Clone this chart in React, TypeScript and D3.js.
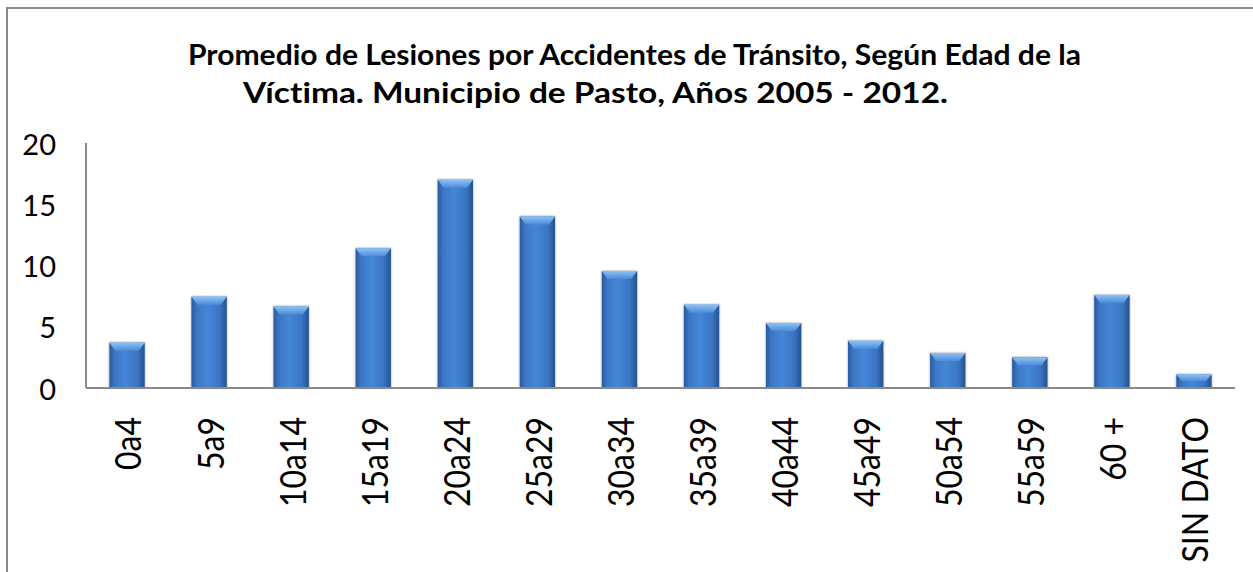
import React from "react";
import * as d3 from "d3";

const categories = ["0a4", "5a9", "10a14", "15a19", "20a24", "25a29", "30a34", "35a39", "40a44", "45a49", "50a54", "55a59", "60 +", "SIN DATO"];
const values = [3.7, 7.45, 6.65, 11.4, 17.0, 14.0, 9.55, 6.8, 5.3, 3.85, 2.85, 2.5, 7.6, 1.1];
const yTicks = [0, 5, 10, 15, 20];
const titleLines = [
  "Promedio de Lesiones por Accidentes de Tránsito, Según Edad de la",
  "Víctima. Municipio de Pasto, Años 2005 - 2012.",
];

const W = 1253;
const H = 572;
const plot = { left: 86, right: 1235, top: 143, bottom: 388 };
const FONT = "Lato, 'Open Sans', sans-serif";
const titleLayout = [
  { x: 188, y: 65, len: 893 },
  { x: 243, y: 103, len: 705 },
];

export default function App() {
  const x = d3
    .scaleBand<string>()
    .domain(categories)
    .range([plot.left, plot.right])
    .paddingInner(0.57)
    .paddingOuter(0.285);
  const y = d3.scaleLinear().domain([0, 20]).range([plot.bottom, plot.top]);
  const bw = x.bandwidth();

  return (
    <svg
      width={W}
      height={H}
      style={{ position: "absolute", left: 0, top: 0, background: "#fff", fontVariantLigatures: "none" }}
    >
      <defs>
        <linearGradient id="barBody" x1="0" x2="1" y1="0" y2="0">
          <stop offset="0%" stopColor="#2a5a9c" />
          <stop offset="15%" stopColor="#3c76c4" />
          <stop offset="45%" stopColor="#4587d8" />
          <stop offset="80%" stopColor="#3b74c2" />
          <stop offset="100%" stopColor="#26528f" />
        </linearGradient>
        <linearGradient id="barCap" x1="0" x2="0" y1="0" y2="1">
          <stop offset="0%" stopColor="#8cc2f5" />
          <stop offset="100%" stopColor="#4b8bd9" />
        </linearGradient>
        <filter id="shadow" x="-20%" y="-20%" width="140%" height="140%">
          <feGaussianBlur in="SourceAlpha" stdDeviation="1.2" />
          <feOffset dx="0" dy="0" result="b" />
          <feComponentTransfer>
            <feFuncA type="linear" slope="0.45" />
          </feComponentTransfer>
          <feMerge>
            <feMergeNode />
            <feMergeNode in="SourceGraphic" />
          </feMerge>
        </filter>
      </defs>

      <rect x={7} y={8} width={1270} height={600} fill="#fff" stroke="#8c8c8c" strokeWidth={2} />

      {titleLines.map((t, i) => (
        <text
          key={i}
          x={titleLayout[i].x}
          y={titleLayout[i].y}
          textLength={titleLayout[i].len}
          lengthAdjust="spacingAndGlyphs"
          fontFamily={FONT}
          fontWeight="bold"
          fontSize={28}
          fill="#000"
          style={{ fontVariantLigatures: "none" }}
        >
          {t}
        </text>
      ))}

      {yTicks.map((t) => (
        <text
          key={t}
          x={56}
          y={y(t)}
          textAnchor="end"
          dominantBaseline="central"
          fontFamily={FONT}
          fontSize={29}
          fill="#000"
        >
          {t}
        </text>
      ))}

      {categories.map((c, i) => {
        const x0 = x(c)!;
        const y0 = y(values[i]);
        const h = plot.bottom - y0;
        const cap = Math.min(8, h / 2);
        return (
          <g key={c} filter="url(#shadow)">
            <rect x={x0} y={y0} width={bw} height={h} fill="url(#barBody)" />
            <path
              d={`M${x0},${y0}L${x0 + bw},${y0}L${x0 + bw - 6},${y0 + cap}L${x0 + 6},${y0 + cap}Z`}
              fill="url(#barCap)"
            />
          </g>
        );
      })}

      <line x1={plot.left} x2={plot.left} y1={plot.top} y2={plot.bottom} stroke="#8a8a8a" strokeWidth={2} />
      <line x1={plot.left} x2={plot.right} y1={plot.bottom} y2={plot.bottom} stroke="#8a8a8a" strokeWidth={2} />

      {categories.map((c) => {
        const cx = x(c)! + bw / 2;
        return (
          <text
            key={c}
            transform={`translate(${cx},${417}) rotate(-90) scale(1,1.15)`}
            textAnchor="end"
            dominantBaseline="central"
            fontFamily={FONT}
            fontSize={32}
            fill="#000"
          >
            {c}
          </text>
        );
      })}
    </svg>
  );
}
